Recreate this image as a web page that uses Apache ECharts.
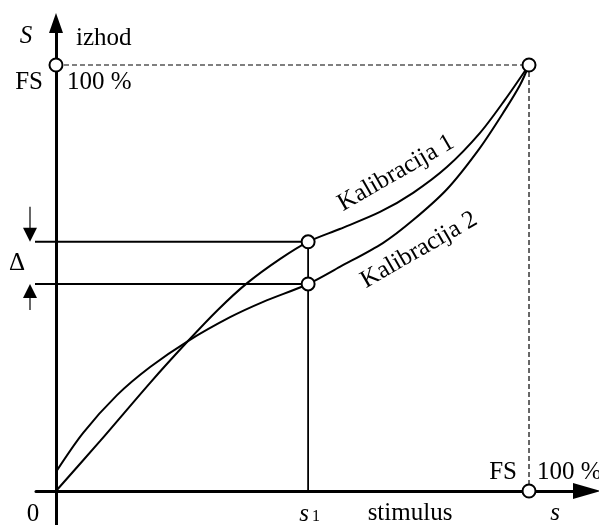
<!DOCTYPE html>
<html>
<head>
<meta charset="utf-8">
<script src="https://cdn.jsdelivr.net/npm/echarts@6/dist/echarts.min.js"></script>
<style>
html,body{margin:0;padding:0;background:#fff;}
#c{width:599px;height:525px;}
</style>
</head>
<body>
<div id="c"></div>
<script>
// Data (percent of full scale)
const kal1Stimulus = [0, 9.3, 19.9, 27.9, 34.2, 40.4, 47.4, 53.3, 60.0, 68.5, 75.5, 82.7, 89.6, 94.9, 100];
const kal1Output   = [0, 11.7, 25.4, 35.2, 42.5, 48.8, 54.5, 58.5, 61.5, 65.5, 70.0, 76.1, 84.0, 91.8, 100];
const kal2Stimulus = [0, 5.7, 12.9, 19.9, 27.9, 36.8, 43.8, 53.3, 60.0, 69.1, 75.5, 82.7, 89.6, 94.9, 98.1, 100];
const kal2Output   = [4.5, 13.6, 22.5, 29.1, 35.2, 40.8, 44.4, 48.6, 52.6, 58.2, 63.6, 70.9, 80.5, 89.4, 95.3, 100];
const fullScale = 100;
const s1 = 53.3;
const kal1AtS1 = 58.5;
const kal2AtS1 = 48.6;
const seriesNames = ['Kalibracija 1', 'Kalibracija 2'];
const axisTexts = { yName: 'izhod', yVar: 'S', xName: 'stimulus', xVar: 's', fs: 'FS', pct: '100 %', zero: '0', delta: 'Δ' };

// layout constants
const guideLeft = -7.6;
const FONT = '"Liberation Serif","Times New Roman",serif';

const zip = (xs, ys) => xs.map((x, i) => [x, ys[i]]);
const chart = echarts.init(document.getElementById('c'), null, { renderer: 'canvas' });

const blackLine = (w, extra) => Object.assign({ color: '#000', width: w }, extra || {});

const option = {
  backgroundColor: '#fff',
  animation: false,
  grid: { left: 36, right: 12, top: 23, bottom: 0, containLabel: false },
  xAxis: {
    type: 'value', min: -4.228, max: 112.26,
    axisLine: { onZero: true, lineStyle: { color: '#000', width: 3 }, symbol: ['none', 'triangle'], symbolSize: [16, 28] },
    axisTick: { show: false }, axisLabel: { show: false }, splitLine: { show: false }
  },
  yAxis: {
    type: 'value', min: -7.981, max: 109.86,
    axisLine: { onZero: true, lineStyle: { color: '#000', width: 3 }, symbol: ['none', 'triangle'], symbolSize: [14, 20] },
    axisTick: { show: false }, axisLabel: { show: false }, splitLine: { show: false }
  },
  series: [
    { name: seriesNames[0], type: 'line', data: zip(kal1Stimulus, kal1Output), smooth: 0.3,
      showSymbol: false, lineStyle: blackLine(2), z: 3 },
    { name: seriesNames[1], type: 'line', data: zip(kal2Stimulus, kal2Output), smooth: 0.3,
      showSymbol: false, lineStyle: blackLine(2), z: 3 },
    { type: 'line', data: [[0, fullScale], [fullScale, fullScale], [fullScale, 0]], showSymbol: false,
      lineStyle: blackLine(1.2, { type: [5, 3] }), z: 2 },
    { type: 'line', data: [[guideLeft, kal1AtS1], [s1, kal1AtS1]], showSymbol: false, clip: false,
      lineStyle: blackLine(2), z: 2 },
    { type: 'line', data: [[guideLeft, kal2AtS1], [s1, kal2AtS1]], showSymbol: false, clip: false,
      lineStyle: blackLine(2), z: 2 },
    { type: 'line', data: [[s1, 0], [s1, kal1AtS1]], showSymbol: false,
      lineStyle: blackLine(1.8), z: 2 },
    { type: 'scatter', data: [[0, fullScale], [fullScale, fullScale], [fullScale, 0], [s1, kal1AtS1], [s1, kal2AtS1]],
      symbol: 'circle', symbolSize: 13, clip: false,
      itemStyle: { color: '#fff', borderColor: '#000', borderWidth: 2, opacity: 1 }, z: 10 }
  ]
};
chart.setOption(option);

const px = (x, y) => chart.convertToPixel({ gridIndex: 0 }, [x, y]);
const pO = px(0, 0), pFy = px(0, fullScale), pFx = px(fullScale, 0), pK1 = px(s1, kal1AtS1), pK2 = px(s1, kal2AtS1);

function txt(text, x, y, opts) {
  opts = opts || {};
  return {
    type: 'text', x: x, y: y, rotation: opts.rotation || 0, z: 20,
    style: {
      text: text, fill: '#000',
      font: (opts.italic ? 'italic ' : '') + (opts.size || 25) + 'px ' + FONT,
      textAlign: opts.align || 'center', textVerticalAlign: opts.valign || 'middle'
    }
  };
}

const ax = pO[0] - 26; // delta arrow x
const graphics = [
  txt(axisTexts.yVar, pO[0] - 30, 36, { italic: true }),
  txt(axisTexts.yName, pO[0] + 20, 38, { align: 'left' }),
  txt(axisTexts.fs, pFy[0] - 13, pFy[1] + 17, { align: 'right' }),
  txt(axisTexts.pct, pFy[0] + 11, pFy[1] + 17, { align: 'left' }),
  txt(axisTexts.zero, pO[0] - 23, pO[1] + 23),
  txt(axisTexts.xVar, pK1[0] - 4, pO[1] + 23, { italic: true }),
  txt('1', pK1[0] + 8, pO[1] + 26, { size: 16 }),
  txt(axisTexts.xName, 410, pO[1] + 22),
  txt(axisTexts.xVar, pFx[0] + 26, pO[1] + 22, { italic: true }),
  txt(axisTexts.fs, pFx[0] - 12, pO[1] - 19, { align: 'right' }),
  txt(axisTexts.pct, pFx[0] + 8, pO[1] - 19, { align: 'left' }),
  txt(axisTexts.delta, 17, (pK1[1] + pK2[1]) / 2 + 1),
  txt(seriesNames[0], 396, 173, { rotation: Math.PI / 6 }),
  txt(seriesNames[1], 419, 250, { rotation: Math.PI / 6 }),
  // delta arrows
  { type: 'line', z: 20, shape: { x1: ax, y1: pK1[1] - 35, x2: ax, y2: pK1[1] - 12 }, style: { stroke: '#000', lineWidth: 1.2 } },
  { type: 'polygon', z: 20, shape: { points: [[ax - 7, pK1[1] - 14], [ax + 7, pK1[1] - 14], [ax, pK1[1]]] }, style: { fill: '#000' } },
  { type: 'line', z: 20, shape: { x1: ax, y1: pK2[1] + 26, x2: ax, y2: pK2[1] + 12 }, style: { stroke: '#000', lineWidth: 1.2 } },
  { type: 'polygon', z: 20, shape: { points: [[ax - 7, pK2[1] + 14], [ax + 7, pK2[1] + 14], [ax, pK2[1]]] }, style: { fill: '#000' } }
];
chart.setOption({ graphic: graphics });
</script>
</body>
</html>
